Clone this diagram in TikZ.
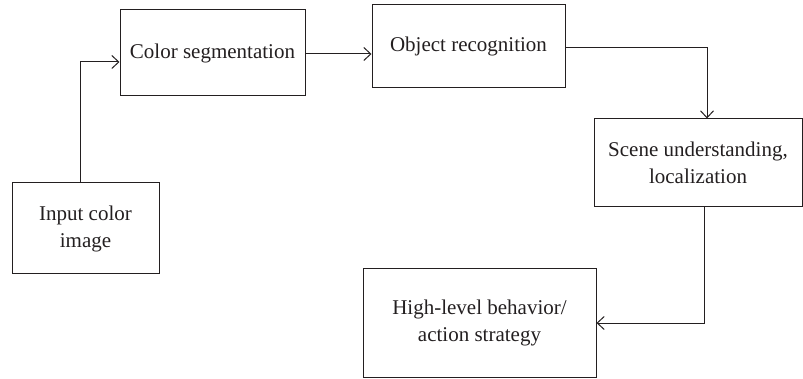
\documentclass[tikz,border=0pt]{standalone}
\usepackage{fontspec}
\setmainfont{Liberation Serif}
\usetikzlibrary{arrows.meta}
\definecolor{ink}{HTML}{231F20}
\begin{document}
\begin{tikzpicture}[x=1pt,y=-1pt,
  box/.style={draw=ink,line width=1pt,inner sep=0pt,align=center,text=ink,
    font=\fontsize{21}{27}\selectfont},
  conn/.style={draw=ink,line width=1pt,-{Straight Barb[length=7pt,width=13pt,line width=1pt]}}]
\useasboundingbox (0,0) rectangle (803,379);
\node[box,minimum width=185pt,minimum height=86pt] (cs) at (212.5,53) {Color segmentation};
\node[box,minimum width=193pt,minimum height=83pt] (or) at (468.5,46) {Object recognition};
\node[box,minimum width=208pt,minimum height=88pt] (su) at (698,163) {Scene understanding,\\localization};
\node[box,minimum width=233pt,minimum height=108pt] (hl) at (479.5,323) {High-level behavior/\\action strategy};
\node[box,minimum width=147pt,minimum height=91pt] (in) at (85.5,228.5) {Input color\\image};
\draw[conn] ([xshift=-5.5pt]in.north) |- ([yshift=-9pt]cs.west);
\draw[conn] ([yshift=-1pt]cs.east) -- ([yshift=-1pt]cs.east -| or.west);
\draw[conn] ([yshift=-2pt]or.east) -| ([xshift=9pt]su.north);
\draw[conn] ([xshift=6pt]su.south) |- (hl.east);
\end{tikzpicture}
\end{document}
